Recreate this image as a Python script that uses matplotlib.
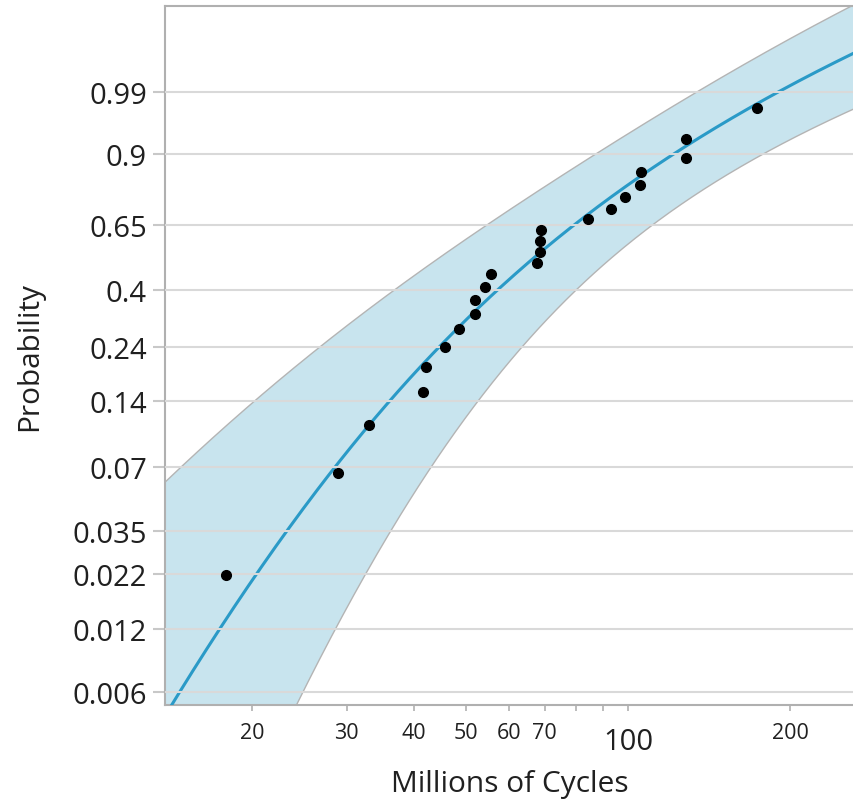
import numpy as np
import matplotlib
matplotlib.use("Agg")
import matplotlib.pyplot as plt
from matplotlib.ticker import FixedLocator, NullFormatter
from math import lgamma

# ball bearing failure times, millions of cycles
cycles = [17.88, 28.92, 33.00, 41.52, 42.12, 45.60, 48.48, 51.84, 51.96, 54.12,
          55.56, 67.80, 68.64, 68.64, 68.88, 84.12, 93.12, 98.64, 105.12, 105.84,
          127.92, 128.04, 173.40]
prob_ticks = [0.006, 0.012, 0.022, 0.035, 0.07, 0.14, 0.24, 0.4, 0.65, 0.9, 0.99]
x_ticks = [20, 30, 40, 50, 60, 70, 100, 200]
x_minor = [80, 90]
# generalized gamma (mu, sigma, lambda) starting values, refined by ML below
start = [4.23, 0.51, 0.31]

x = np.array(cycles)
n = len(x)


def gamma_pq(a, v):
    """regularized lower / upper incomplete gamma"""
    v = np.atleast_1d(np.asarray(v, float))
    p = np.empty_like(v)
    q = np.empty_like(v)
    lg = lgamma(a)
    small = v < a + 1
    if small.any():
        vs = v[small]
        term = np.full_like(vs, 1.0 / a)
        total = term.copy()
        for i in range(1, 400):
            term = term * vs / (a + i)
            total += term
        p[small] = total * np.exp(-vs + a * np.log(vs) - lg)
        q[small] = 1 - p[small]
    if (~small).any():
        vl = v[~small]
        tiny = 1e-300
        b = vl + 1 - a
        c = np.full_like(vl, 1 / tiny)
        d = 1 / b
        h = d.copy()
        for i in range(1, 300):
            an = -i * (i - a)
            b = b + 2
            d = an * d + b
            d = np.where(np.abs(d) < tiny, tiny, d)
            c = b + an / c
            c = np.where(np.abs(c) < tiny, tiny, c)
            d = 1 / d
            h = h * d * c
        q[~small] = np.exp(-vl + a * np.log(vl) - lg) * h
        p[~small] = 1 - q[~small]
    return p, q


def weib_std(ws, lam):
    # standardized gen. gamma cdf, put on the Weibull probability scale
    k = 1 / lam ** 2
    p, q = gamma_pq(k, k * np.exp(lam * ws))
    cum_haz = np.where(p < 0.5, -np.log1p(-p), -np.log(q))
    return np.log(cum_haz)


def loglik(theta):
    mu, sig, lam = theta
    if sig <= 0 or lam <= 0:
        return -np.inf
    k = 1 / lam ** 2
    z = (np.log(x) - mu) / sig
    return np.sum(np.log(lam) - np.log(sig) - np.log(x) - lgamma(k)
                  + k * np.log(k) + k * (lam * z - np.exp(lam * z)))


def grad_hess(f, th, h=1e-4):
    m = len(th)
    g = np.zeros(m)
    H = np.zeros((m, m))
    for i in range(m):
        e = np.zeros(m); e[i] = h
        g[i] = (f(th + e) - f(th - e)) / (2 * h)
        for j in range(m):
            e2 = np.zeros(m); e2[j] = h
            H[i, j] = (f(th + e + e2) - f(th + e - e2) - f(th - e + e2) + f(th - e - e2)) / (4 * h * h)
    return g, H


theta = np.array(start, float)
for _ in range(25):
    g, H = grad_hess(loglik, theta)
    step = -np.linalg.solve(H, g)
    t = 1.0
    base = loglik(theta)
    while loglik(theta + t * step) < base and t > 1e-4:
        t /= 2
    theta = theta + t * step
g, H = grad_hess(loglik, theta)
mu, sig, lam = theta
# (mu, sigma) block of the full covariance, pointwise 95% band
cov = np.linalg.inv(-H)[:2, :2]
crit = 1.96

lo_x, hi_x = 13.78, 263.0
grid = np.logspace(np.log10(lo_x), np.log10(hi_x), 300)
ws = (np.log(grid) - mu) / sig
se = np.sqrt(cov[0, 0] + 2 * ws * cov[0, 1] + ws ** 2 * cov[1, 1]) / sig
w_fit = weib_std(ws, lam)
w_lo = weib_std(ws - crit * se, lam)
w_hi = weib_std(ws + crit * se, lam)

ranks = (np.arange(1, n + 1) - 0.5) / n
w_pts = np.log(-np.log(1 - ranks))
w_ticks = np.log(-np.log(1 - np.array(prob_ticks)))

plt.rcParams["font.family"] = ["Open Sans", "DejaVu Sans"]
fig = plt.figure(figsize=(8.54, 8.03), dpi=100)
ax = fig.add_axes([165 / 854, 97 / 803, 689 / 854, 699 / 803])

ax.fill_between(grid, w_lo, w_hi, color="#c8e4ee", lw=0, zorder=1)
ax.plot(grid, w_lo, color="#b4b4b4", lw=1, zorder=2)
ax.plot(grid, w_hi, color="#b4b4b4", lw=1, zorder=2)
ax.plot(grid, w_fit, color="#2a9ac7", lw=2.2, zorder=3)
for wt in w_ticks:
    ax.axhline(wt, color="#d9d9d9", lw=1.5, zorder=4)
ax.plot(x, w_pts, "o", color="black", ms=7, zorder=5)

ax.set_xscale("log")
ax.set_xlim(lo_x, hi_x)
ax.set_ylim(-5.26, 2.475)

ax.set_yticks(w_ticks)
ax.set_yticklabels([f"{p:g}" for p in prob_ticks], fontsize=21, color="#202020")
ax.tick_params(axis="y", length=9, width=1.5, color="#c8c8c8", pad=4)

ax.xaxis.set_major_locator(FixedLocator(x_ticks))
ax.set_xticklabels([str(v) for v in x_ticks], fontsize=15.5, color="#202020")
ax.xaxis.set_minor_locator(FixedLocator(x_minor))
ax.xaxis.set_minor_formatter(NullFormatter())
ax.tick_params(axis="x", which="both", length=4, width=1.2, color="#b0b0b0", pad=8)
for tk, v in zip(ax.xaxis.get_major_ticks(), x_ticks):
    if v == 100:
        tk.tick1line.set_markersize(8)
        tk.label1.set_fontsize(21)
        tk.set_pad(12)

for side in ["left", "top", "bottom"]:
    ax.spines[side].set_color("#b0b0b0")
    ax.spines[side].set_linewidth(1.5)
ax.spines["right"].set_visible(False)

ax.set_xlabel("Millions of Cycles", fontsize=21.5, color="#202020")
ax.set_ylabel("Probability", fontsize=21.5, color="#202020")
ax.xaxis.label.set_va("center")
ax.yaxis.label.set_va("center")
ax.xaxis.set_label_coords(0.5, (706 - 785) / 699)
ax.yaxis.set_label_coords((30 - 165) / 689, 0.5)

fig.savefig("out.png", dpi=100)
